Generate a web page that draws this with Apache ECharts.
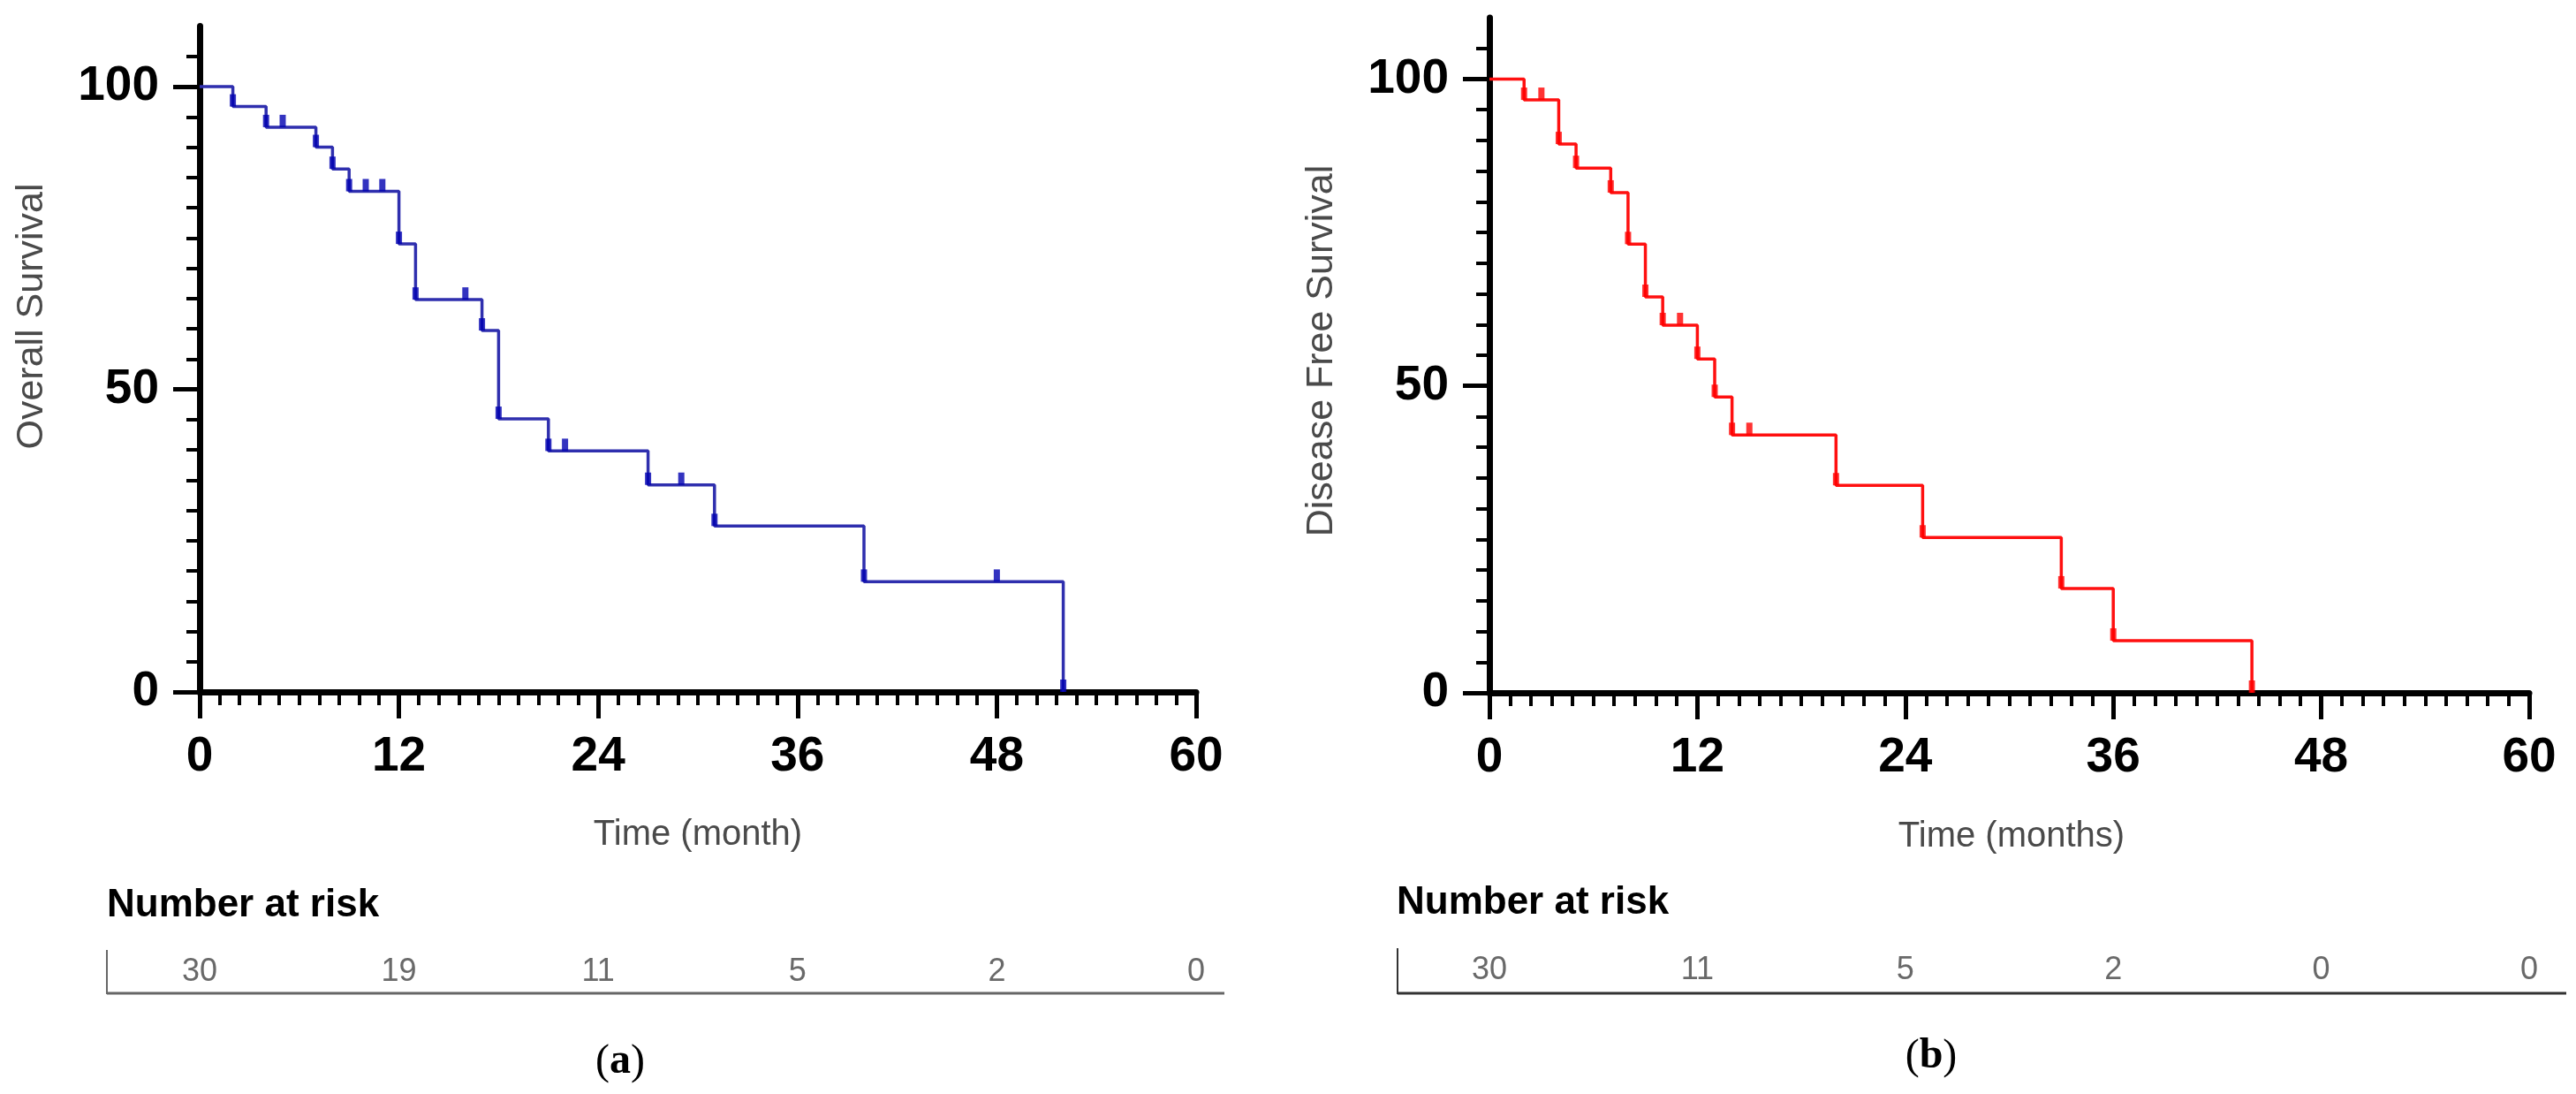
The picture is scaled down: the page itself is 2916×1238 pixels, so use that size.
<!DOCTYPE html>
<html>
<head>
<meta charset="utf-8">
<script src="https://cdn.jsdelivr.net/npm/echarts@6/dist/echarts.min.js"></script>
<style>
html,body{margin:0;padding:0;background:#fff;}
#chart{width:2916px;height:1238px;}
</style>
</head>
<body>
<div id="chart"></div>
<script>
// ---- data ----
const osTimes = [0, 2, 4, 7, 8, 9, 12, 13, 17, 18, 21, 27, 31, 40, 52];
const osSurvival = [100, 96.7, 93.3, 90.0, 86.4, 82.7, 74.0, 64.8, 59.7, 45.1, 39.8, 34.2, 27.4, 18.2, 0];
const osCensorTimes = [2, 4, 5, 7, 8, 9, 10, 11, 12, 13, 16, 17, 18, 21, 22, 27, 29, 31, 40, 48, 52];

const dfsTimes = [0, 2, 4, 5, 7, 8, 9, 10, 12, 13, 14, 20, 25, 33, 36, 44];
const dfsSurvival = [100, 96.6, 89.4, 85.5, 81.5, 73.1, 64.5, 59.9, 54.4, 48.2, 42.0, 33.8, 25.3, 17.0, 8.5, 0];
const dfsCensorTimes = [2, 3, 4, 5, 7, 8, 9, 10, 11, 12, 13, 14, 15, 20, 25, 33, 36, 44];

const timeTicks = [0, 12, 24, 36, 48, 60];
const survivalTicks = [0, 50, 100];
const osAtRisk = [30, 19, 11, 5, 2, 0];
const dfsAtRisk = [30, 11, 5, 2, 0, 0];

// ---- helpers ----
function levelAt(times, surv, t) {
  let v = surv[0];
  for (let i = 0; i < times.length; i++) { if (times[i] <= t) v = surv[i]; }
  return v;
}
const FONT = "'Liberation Sans', Arial, sans-serif";
const SERIF = "'Liberation Serif', 'Times New Roman', serif";

function xAxisCfg(gridIndex) {
  return {
    type: 'value', gridIndex: gridIndex, min: 0, max: 60, interval: 12,
    axisLine: { show: true, onZero: false, lineStyle: { color: '#000', width: 7 } },
    axisTick: { show: true, length: 30, lineStyle: { color: '#000', width: 5 } },
    minorTick: { show: true, splitNumber: 10, length: 15, lineStyle: { color: '#000', width: 4 } },
    splitLine: { show: false }, minorSplitLine: { show: false },
    axisLabel: { fontSize: 55, fontWeight: 'bold', color: '#000', fontFamily: FONT, margin: 46 }
  };
}
function yAxisCfg(gridIndex) {
  return {
    type: 'value', gridIndex: gridIndex, min: 0, max: 110, interval: 50,
    axisLine: { show: true, onZero: false, lineStyle: { color: '#000', width: 7 } },
    axisTick: { show: true, length: 30, customValues: survivalTicks, lineStyle: { color: '#000', width: 5 } },
    minorTick: { show: true, splitNumber: 10, length: 15, lineStyle: { color: '#000', width: 4 } },
    splitLine: { show: false }, minorSplitLine: { show: false },
    axisLabel: { fontSize: 55, fontWeight: 'bold', color: '#000', fontFamily: FONT, margin: 46,
                 customValues: survivalTicks }
  };
}
function hiddenX(gridIndex) {
  return { type: 'value', gridIndex: gridIndex, min: 0, max: 60, show: false };
}
function hiddenY(gridIndex) {
  return { type: 'value', gridIndex: gridIndex, min: 0, max: 1, show: false };
}
function curve(times, surv, gi, color) {
  return {
    type: 'line', xAxisIndex: gi, yAxisIndex: gi, step: 'end', symbol: 'none',
    data: times.map((t, i) => [t, surv[i]]),
    lineStyle: { color: color, width: 3.5 }, z: 3, silent: true
  };
}
function censor(cTimes, times, surv, gi, color) {
  return {
    type: 'scatter', xAxisIndex: gi, yAxisIndex: gi, symbol: 'rect',
    symbolSize: [7, 14], symbolOffset: [0, -7],
    data: cTimes.map(t => [t, levelAt(times, surv, t)]),
    itemStyle: { color: color }, z: 4, silent: true
  };
}
function riskRow(values, gi) {
  return {
    type: 'scatter', xAxisIndex: gi, yAxisIndex: gi, symbolSize: 1,
    itemStyle: { color: 'rgba(0,0,0,0)' },
    data: timeTicks.map((t, i) => [t, 0.5, values[i]]),
    label: { show: true, position: 'inside', formatter: p => String(p.value[2]),
             fontSize: 36, color: '#444', fontFamily: FONT },
    silent: true
  };
}

const chart = echarts.init(document.getElementById('chart'), null, { renderer: 'canvas' });
chart.setOption({
  backgroundColor: '#fff',
  animation: false,
  grid: [
    { left: 226, top: 29.5, width: 1128, height: 753.5 },
    { left: 1686, top: 20, width: 1177, height: 764 },
    { left: 226, top: 1075, width: 1128, height: 50 },
    { left: 1686, top: 1073, width: 1177, height: 50 }
  ],
  xAxis: [xAxisCfg(0), xAxisCfg(1), hiddenX(2), hiddenX(3)],
  yAxis: [yAxisCfg(0), yAxisCfg(1), hiddenY(2), hiddenY(3)],
  series: [
    curve(osTimes, osSurvival, 0, '#2f2fae'),
    censor(osCensorTimes, osTimes, osSurvival, 0, '#0000b0'),
    curve(dfsTimes, dfsSurvival, 1, '#ff1010'),
    censor(dfsCensorTimes, dfsTimes, dfsSurvival, 1, '#ff0000'),
    riskRow(osAtRisk, 2),
    riskRow(dfsAtRisk, 3)
  ],
  graphic: [
    { type: 'text', x: 36, y: 358, rotation: Math.PI / 2,
      style: { text: 'Overall Survival', font: "43px " + FONT, fill: '#4a4a4a', align: 'center', verticalAlign: 'middle' } },
    { type: 'text', x: 1496, y: 397, rotation: Math.PI / 2,
      style: { text: 'Disease Free Survival', font: "43px " + FONT, fill: '#4a4a4a', align: 'center', verticalAlign: 'middle' } },
    { type: 'text', x: 790, y: 945,
      style: { text: 'Time (month)', font: "40px " + FONT, fill: '#4a4a4a', align: 'center', verticalAlign: 'middle' } },
    { type: 'text', x: 2277, y: 947,
      style: { text: 'Time (months)', font: "40px " + FONT, fill: '#4a4a4a', align: 'center', verticalAlign: 'middle' } },
    { type: 'text', x: 121, y: 1025,
      style: { text: 'Number at risk', font: "bold 44px " + FONT, fill: '#000', align: 'left', verticalAlign: 'middle' } },
    { type: 'text', x: 1581, y: 1022,
      style: { text: 'Number at risk', font: "bold 44px " + FONT, fill: '#000', align: 'left', verticalAlign: 'middle' } },
    { type: 'line', shape: { x1: 121, y1: 1075, x2: 121, y2: 1125 }, style: { stroke: '#666', lineWidth: 2 } },
    { type: 'line', shape: { x1: 121, y1: 1124, x2: 1386, y2: 1124 }, style: { stroke: '#666', lineWidth: 3 } },
    { type: 'line', shape: { x1: 1582, y1: 1073, x2: 1582, y2: 1125 }, style: { stroke: '#333', lineWidth: 2 } },
    { type: 'line', shape: { x1: 1582, y1: 1124, x2: 2905, y2: 1124 }, style: { stroke: '#333', lineWidth: 3 } },
    { type: 'text', x: 702, y: 1202,
      style: { text: '{n|(}{b|a}{n|)}', align: 'center', verticalAlign: 'middle',
        rich: { n: { font: "48px " + SERIF, fill: '#000' }, b: { font: "bold 48px " + SERIF, fill: '#000' } } } },
    { type: 'text', x: 2186, y: 1196,
      style: { text: '{n|(}{b|b}{n|)}', align: 'center', verticalAlign: 'middle',
        rich: { n: { font: "48px " + SERIF, fill: '#000' }, b: { font: "bold 48px " + SERIF, fill: '#000' } } } }
  ]
});
</script>
</body>
</html>
